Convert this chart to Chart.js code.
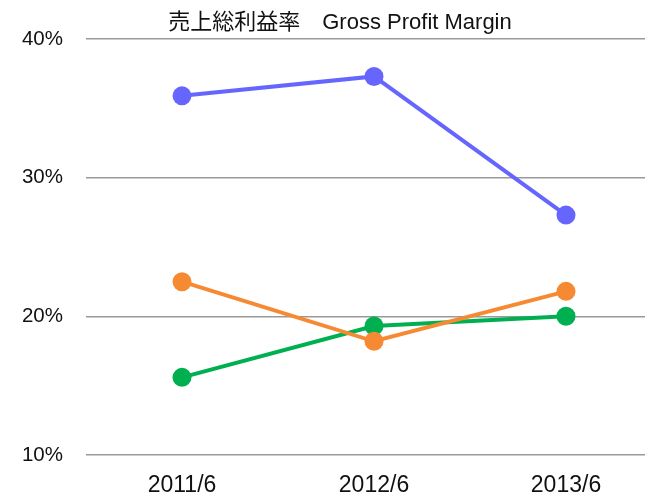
<!DOCTYPE html>
<html>
<head>
<meta charset="utf-8">
<script src="https://cdn.jsdelivr.net/npm/chart.js@4/dist/chart.umd.min.js"></script>
<style>
  html, body { margin: 0; padding: 0; background: #fff; overflow: hidden; }
  #wrap { width: 680px; height: 493px; }
</style>
</head>
<body>
<div id="wrap"><canvas id="margin" width="680" height="493"></canvas></div>
<script>
// Data
const periods = ['2011/6', '2012/6', '2013/6'];
const blueSeries = [35.9, 37.3, 27.3];
const orangeSeries = [22.5, 18.2, 21.8];
const greenSeries = [15.6, 19.3, 20.0];
const yTicks = [10, 20, 30, 40];

const fontFamily = '"Liberation Sans", Arial, "Noto Sans CJK JP", sans-serif';

function line(label, data, color) {
    return {
        label: label,
        data: data,
        borderColor: color,
        backgroundColor: color,
        borderWidth: 4,
        pointRadius: 9.5,
        pointHoverRadius: 9.5,
        pointBorderWidth: 0,
        tension: 0
    };
}

const ctx = document.getElementById('margin').getContext('2d');
const chart = new Chart(ctx, {
    type: 'line',
    data: {
        labels: periods,
        datasets: [
            line('A', blueSeries, '#6666ff'),
            line('B', orangeSeries, '#f68a33'),
            line('C', greenSeries, '#00b050')
        ]
    },
    options: {
        responsive: false,
        animation: false,
        layout: { padding: { left: 18, right: 18, top: 0, bottom: 0 } },
        plugins: {
            legend: { display: false },
            tooltip: { enabled: false },
            title: {
                display: true,
                text: '売上総利益率　Gross Profit Margin',
                color: '#111',
                font: { family: fontFamily, size: 22, weight: 'normal' },
                padding: { top: 10, bottom: 2.6 }
            }
        },
        scales: {
            x: {
                offset: true,
                grid: { display: false },
                border: { display: false },
                ticks: {
                    color: '#111',
                    font: { family: fontFamily, size: 23 },
                    padding: 9,
                    maxRotation: 0
                },
                afterFit: function(s) { s.height = 38; }
            },
            y: {
                min: 10,
                max: 40,
                afterBuildTicks: function(s) { s.ticks = yTicks.map(v => ({ value: v })); },
                grid: { color: '#999', lineWidth: 1.5, drawTicks: false },
                border: { display: false },
                ticks: {
                    color: '#111',
                    font: { family: fontFamily, size: 20.5 },
                    padding: 23,
                    callback: v => v + '%'
                },
                afterFit: function(s) { s.width = 68; }
            }
        }
    }
});
</script>
</body>
</html>
